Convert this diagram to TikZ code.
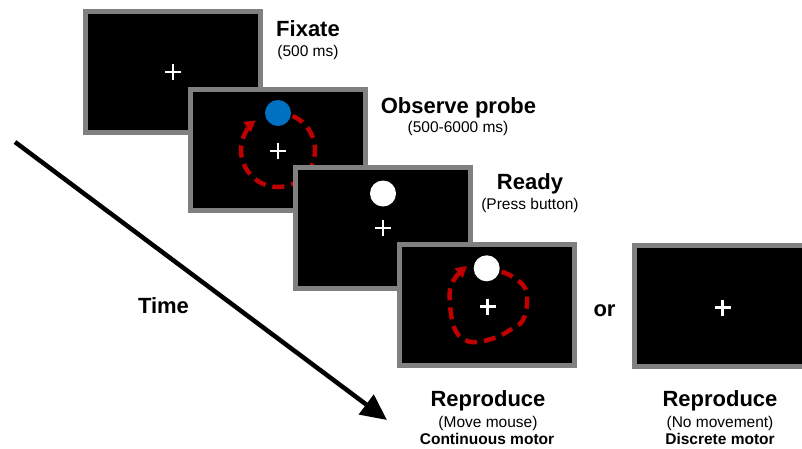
\documentclass[tikz,border=0pt]{standalone}
\usepackage{fontspec}
\setmainfont{Liberation Sans}
\usetikzlibrary{arrows.meta}
\definecolor{scrgray}{RGB}{128,128,128}
\definecolor{probered}{RGB}{192,0,0}
\definecolor{probeblue}{RGB}{0,112,192}
\newcommand\crossmk[2]{\draw[crossmark] (#1-8,#2) -- (#1+8,#2) (#1,#2-8) -- (#1,#2+8);}
\begin{document}
\begin{tikzpicture}[x=1pt,y=-1pt,
  screen/.style={draw=scrgray, line width=5pt, fill=black, minimum width=175pt, minimum height=121pt, inner sep=0pt},
  crossmark/.style={draw=white, line width=2.5pt},
  title/.style={font=\bfseries\fontsize{22}{26}\selectfont, anchor=base},
  sub/.style={font=\fontsize{15.5}{18}\selectfont, anchor=base},
  motor/.style={font=\bfseries\fontsize{15.5}{18}\selectfont, anchor=base},
  redpath/.style={draw=probered, line width=4.5pt, dash pattern=on 12pt off 7pt, -{Triangle[length=11pt,width=12pt]}},
  dot/.style={circle, inner sep=0pt, minimum size=26pt},
]
\useasboundingbox (0,0) rectangle (802,448);

% screen 1
\node[screen] (s1) at (173,71.5) {};
\crossmk{173}{72}

% screen 2
\node[screen] (s2) at (278,150) {};
\crossmk{278}{151}
\draw[redpath] (278,150) ++(-67:37) arc[start angle=-67, end angle=233, radius=37];
\node[dot, fill=probeblue] (b2) at (278,113) {};

% screen 3
\node[screen] (s3) at (383,227.5) {};
\crossmk{383}{228}
\node[dot, fill=white] (w3) at (383,193.5) {};

% screen 4
\node[screen] (s4) at (487,305) {};
\crossmk{487.5}{306.5}
\draw[redpath] plot[smooth, tension=0.7] coordinates {(501.7,271.7) (513,277) (525,288) (527,303) (523,320) (513,328) (497,337) (477,342) (465,340) (457,333) (452,320) (450,303) (450,290) (455,278) (467,266)};
\node[dot, fill=white] (w4) at (486.7,268.3) {};

% screen 5
\begin{scope}
\clip (0,0) rectangle (802,448);
\node[screen] (s5) at (721.5,306) {};
\end{scope}
\crossmk{722.5}{307.5}

% time arrow
\coordinate (tstart) at (15,142);
\coordinate (tend) at (387,420);
\draw[line width=4.5pt, -{Triangle[length=26pt,width=24pt]}] (tstart) -- (tend);

% labels
\node[title] (fix) at (308,36) {Fixate};
\node[sub] (fixt) at (308,56) {(500 ms)};
\node[title] (obs) at (458.5,113) {Observe probe};
\node[sub] (obst) at (458,132) {(500-6000 ms)};
\node[title] (rdy) at (530,189) {Ready};
\node[sub] (rdyt) at (530,209) {(Press button)};
\node[title] (rep1) at (488,406) {Reproduce};
\node[sub] (rep1t) at (488,427) {(Move mouse)};
\node[motor] (rep1m) at (487,444) {Continuous motor};
\node[title] (rep2) at (720,406) {Reproduce};
\node[sub] (rep2t) at (720,427) {(No movement)};
\node[motor] (rep2m) at (720,444) {Discrete motor};
\node[title] (time) at (163.5,313) {Time};
\node[title] (or) at (604.5,316) {or};
\end{tikzpicture}
\end{document}
